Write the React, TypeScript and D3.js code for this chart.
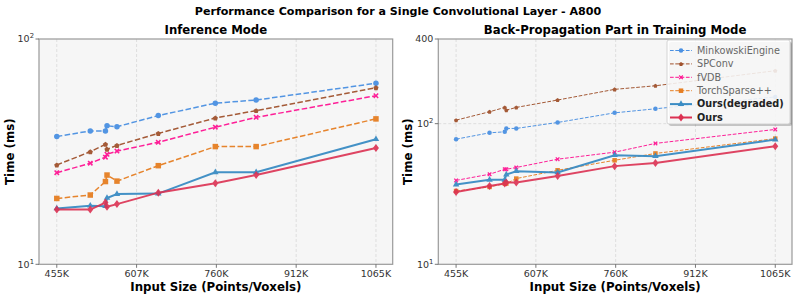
import * as d3 from 'd3';

// input sizes in thousands of points/voxels
const inputSizes = [455, 519, 548, 551, 570, 649, 758, 836, 1065];
const xTicks = [455, 607.5, 760, 912.5, 1065];
const xTickLabels = ['455K', '607K', '760K', '912K', '1065K'];

const methods = ['MinkowskiEngine', 'SPConv', 'fVDB', 'TorchSparse++', 'Ours(degraded)', 'Ours'];

// inference mode, ms
const infMinkowski = [36.9, 39.1, 39.1, 41.2, 40.8, 45.7, 51.9, 53.6, 63.6];
const infSPConv = [27.6, 31.6, 34.1, 32.4, 33.7, 38.1, 44.6, 48.1, 60.8];
const infFVDB = [25.5, 28.1, 29.9, 30.8, 31.8, 34.8, 40.6, 44.9, 56.0];
const infTorchSparse = [19.6, 20.3, 23.3, 24.9, 23.4, 27.4, 33.3, 33.3, 44.2];
const infDegraded = [17.7, 18.2, 18.1, 19.7, 20.5, 20.6, 25.6, 25.6, 35.9];
const infOurs = [17.5, 17.5, 18.8, 18.0, 18.5, 20.8, 22.9, 24.9, 32.8];

// back-propagation in training mode, ms
const bpMinkowski = [77.6, 86.1, 87.5, 92.5, 92.5, 102, 119.4, 127.6, 155];
const bpSPConv = [105.9, 121.5, 130.5, 124.7, 130.5, 147.2, 175.4, 186, 238];
const bpFVDB = [39.5, 43.7, 47.4, 47.4, 48.8, 55.9, 62.7, 72.4, 91.0];
const bpTorchSparse = [33.2, 35.5, 37.5, 37.5, 40.7, 46.6, 54.9, 61.4, 78.3];
const bpDegraded = [36.9, 39.9, 39.9, 43.5, 45.9, 45.0, 59.7, 58.7, 77.0];
const bpOurs = [32.7, 36.1, 37.5, 38.1, 38.1, 42.5, 49.9, 52.6, 69.2];

const infSeries = [infMinkowski, infSPConv, infFVDB, infTorchSparse, infDegraded, infOurs];
const bpSeries = [bpMinkowski, bpSPConv, bpFVDB, bpTorchSparse, bpDegraded, bpOurs];

const colors = ['#4a90e2', '#a0522d', '#ff1493', '#e67e22', '#3a8cc4', '#dc3152'];
const markers = ['circle', 'pentagon', 'x', 'square', 'triangle', 'diamond'];
const dashed = [true, true, true, true, false, false];

const FONT = 'DejaVu Sans, sans-serif';

function markerPath(kind: string, d: number): string {
  if (kind === 'circle') return d3.symbol(d3.symbolCircle, Math.PI * (d / 2) ** 2)()!;
  if (kind === 'square') return d3.symbol(d3.symbolSquare, d * d)()!;
  if (kind === 'triangle') return d3.symbol(d3.symbolTriangle, (Math.sqrt(3) / 4) * d * d)()!;
  if (kind === 'diamond') {
    const r = d / 2;
    return `M0,${-r}L${r * 0.75},0L0,${r}L${-r * 0.75},0Z`;
  }
  if (kind === 'x') {
    const a = d / 2, w = d / 5;
    const p = [[-a + w, -a], [0, -w], [a - w, -a], [a, -a + w], [w, 0], [a, a - w], [a - w, a], [0, w], [-a + w, a], [-a, a - w], [-w, 0], [-a, -a + w]];
    return 'M' + p.map(q => q.join(',')).join('L') + 'Z';
  }
  // pentagon
  const pts = d3.range(5).map(k => {
    const ang = (-90 + k * 72) * Math.PI / 180;
    return [Math.cos(ang) * d / 2, Math.sin(ang) * d / 2 + d * 0.05];
  });
  return 'M' + pts.map(q => q.join(',')).join('L') + 'Z';
}

function TickLabel({ x, y, label }: { x: number; y: number; label: string }) {
  if (label.startsWith('10^')) {
    return (
      <text x={x} y={y} textAnchor="end" dy="0.35em" fontSize={9.5} fill="#333" fontFamily={FONT}>
        10<tspan fontSize={6.8} dy={-4}>{label.slice(3)}</tspan>
      </text>
    );
  }
  return <text x={x} y={y} textAnchor="end" dy="0.35em" fontSize={9.5} fill="#333" fontFamily={FONT}>{label}</text>;
}

interface PanelProps {
  left: number; right: number; top: number; bottom: number;
  title: string; series: number[][]; yDomain: [number, number];
  yTicks: number[]; yTickLabels: string[]; yGrid: number[];
  thin: boolean; labelX: number;
}

function Panel(p: PanelProps) {
  const x = d3.scaleLinear().domain([421, 1097]).range([p.left, p.right]);
  const y = d3.scaleLog().domain(p.yDomain).range([p.bottom, p.top]);
  const midX = (p.left + p.right) / 2;
  return (
    <g>
      <rect x={p.left} y={p.top} width={p.right - p.left} height={p.bottom - p.top} fill="#f6f6f6" />
      {xTicks.map(t => (
        <line key={t} x1={x(t)} x2={x(t)} y1={p.top} y2={p.bottom} stroke="#d8d8d8" strokeWidth={0.8} strokeDasharray="3,2" />
      ))}
      {p.yGrid.map(t => (
        <line key={t} x1={p.left} x2={p.right} y1={y(t)} y2={y(t)} stroke="#d8d8d8" strokeWidth={0.8} strokeDasharray="3,2" />
      ))}
      {p.series.map((vals, i) => {
        const line = d3.line<number>().x((_, j) => x(inputSizes[j])).y(v => y(v));
        const lw = dashed[i] ? (p.thin ? 1 : 1.5) : 2;
        const md = p.thin && dashed[i] ? 4.5 : dashed[i] ? 5.5 : i === 5 ? 8 : 6.5;
        return (
          <g key={i} opacity={i === 5 ? 0.9 : 0.95}>
            <path d={line(vals)!} fill="none" stroke={colors[i]} strokeWidth={lw}
              strokeDasharray={dashed[i] ? `${3.7 * lw},${1.6 * lw}` : undefined} />
            {vals.map((v, j) => (
              <path key={j} d={markerPath(markers[i], md)} transform={`translate(${x(inputSizes[j])},${y(v)})`} fill={colors[i]} />
            ))}
          </g>
        );
      })}
      <rect x={p.left} y={p.top} width={p.right - p.left} height={p.bottom - p.top} fill="none" stroke="#999" strokeWidth={1.2} />
      {xTicks.map((t, i) => (
        <g key={t}>
          <line x1={x(t)} x2={x(t)} y1={p.bottom} y2={p.bottom + 3.5} stroke="#555" strokeWidth={0.8} />
          <text x={x(t)} y={p.bottom + 12.5} textAnchor="middle" fontSize={9.5} fill="#333" fontFamily={FONT}>{xTickLabels[i]}</text>
        </g>
      ))}
      {p.yTicks.map((t, i) => (
        <g key={t}>
          <line x1={p.left - 3.5} x2={p.left} y1={y(t)} y2={y(t)} stroke="#555" strokeWidth={0.8} />
          <TickLabel x={p.left - 5} y={y(t)} label={p.yTickLabels[i]} />
        </g>
      ))}
      <text x={midX} y={p.top - 5} textAnchor="middle" fontSize={11.7} fontWeight="bold" fontFamily={FONT}>{p.title}</text>
      <text x={midX} y={p.bottom + 27} textAnchor="middle" fontSize={11.8} fontWeight="bold" fontFamily={FONT}>Input Size (Points/Voxels)</text>
      <text transform={`translate(${p.labelX},${(p.top + p.bottom) / 2}) rotate(-90)`} textAnchor="middle" fontSize={11.8} fontWeight="bold" fontFamily={FONT}>Time (ms)</text>
    </g>
  );
}

function Legend({ right, top }: { right: number; top: number }) {
  const w = 123, h = 84, lx = right - w;
  return (
    <g>
      <rect x={lx + 2} y={top + 2} width={w} height={h} rx={2} fill="#000" opacity={0.2} />
      <rect x={lx} y={top} width={w} height={h} rx={2} fill="#fff" fillOpacity={0.85} stroke="#ccc" strokeWidth={0.8} />
      {methods.map((m, i) => {
        const cy = top + 10.5 + i * 13.4;
        const lw = dashed[i] ? 1 : 2;
        const md = dashed[i] ? 4.5 : i === 5 ? 8 : 6.5;
        return (
          <g key={m}>
            <line x1={lx + 3} x2={lx + 25} y1={cy} y2={cy} stroke={colors[i]} strokeWidth={lw}
              strokeDasharray={dashed[i] ? '3.7,1.6' : undefined} />
            <path d={markerPath(markers[i], md)} transform={`translate(${lx + 14},${cy})`} fill={colors[i]} />
            <text x={lx + 30} y={cy} dy="0.35em" fontSize={9.7} fontFamily={FONT}
              fill={dashed[i] ? '#666' : '#222'} fontWeight={dashed[i] ? 'normal' : 'bold'}>{m}</text>
          </g>
        );
      })}
    </g>
  );
}

export default function App() {
  return (
    <svg width={797} height={300} style={{ position: 'absolute', left: 0, top: 0, background: '#fff' }}>
      <rect width={797} height={300} fill="#fff" />
      <text x={398} y={15} textAnchor="middle" fontSize={11.1} fontWeight="bold" fontFamily={FONT}>
        Performance Comparison for a Single Convolutional Layer - A800
      </text>
      <Panel left={39} right={392.7} top={39} bottom={264.3} title="Inference Mode"
        series={infSeries} yDomain={[10, 100]} yTicks={[10, 100]} yTickLabels={['10^1', '10^2']}
        yGrid={[]} thin={false} labelX={14} />
      <Panel left={438.3} right={792} top={39} bottom={264.3} title="Back-Propagation Part in Training Mode"
        series={bpSeries} yDomain={[10, 400]} yTicks={[10, 100, 400]} yTickLabels={['10^1', '10^2', '400']}
        yGrid={[100]} thin={true} labelX={412} />
      <Legend right={790} top={40} />
    </svg>
  );
}
